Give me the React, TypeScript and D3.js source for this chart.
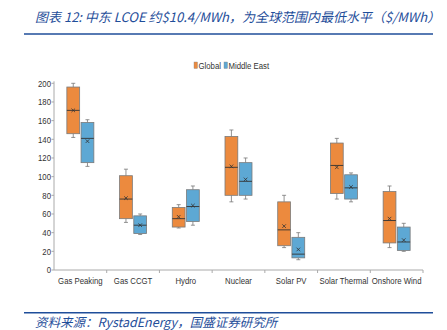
import React from "react";
import * as d3 from "d3";

const categories = ["Gas Peaking", "Gas CCGT", "Hydro", "Nuclear", "Solar PV", "Solar Thermal", "Onshore Wind"];
const seriesNames = ["Global", "Middle East"];
// [whiskerLow, q1, median, q3, whiskerHigh, mean]
const globalStats = [
  [142, 146, 171, 196, 200, 171],
  [51, 55, 76, 101, 108, 77],
  [45, 46, 55, 67, 70, 57],
  [73, 80, 110, 143, 150, 111],
  [24, 26, 43, 73, 80, 47],
  [76, 82, 112, 136, 141, 110],
  [24, 29, 53, 84, 90, 55],
];
const middleEastStats = [
  [111, 115, 141, 158, 161, 138],
  [38, 39, 48, 58, 60, 48],
  [48, 52, 68, 86, 90, 69],
  [76, 80, 95, 115, 120, 97],
  [11, 13, 17, 35, 40, 22],
  [73, 76, 88, 102, 104, 89],
  [20, 21, 30, 46, 50, 32],
];
const yTicks = [0, 20, 40, 60, 80, 100, 120, 140, 160, 180, 200];
const colors = ["#EC8A3E", "#5DA8D4"];

const W = 447, H = 330;
const FONT = "'Liberation Sans', Arial, sans-serif";
const CJK = "'Noto Sans CJK SC', sans-serif";

function NText({ x, y, anchor = "start", size = 9.5, sx = 0.82, children }: any) {
  return (
    <g transform={`translate(${x},${y}) scale(${sx},1)`}>
      <text x={0} y={0} textAnchor={anchor} fontSize={size} fontFamily={FONT} fill="#333">{children}</text>
    </g>
  );
}

export default function App() {
  const x = d3.scaleBand().domain(categories).range([54, 423]).paddingInner(0).paddingOuter(0);
  const y = d3.scaleLinear().domain([0, 200]).range([270, 83.3]);
  const sub = d3.scaleBand().domain(seriesNames).range([-13.5, 13.5]).paddingInner(0.1);
  const bw = sub.bandwidth();
  const all = [globalStats, middleEastStats];

  return (
    <svg width={W} height={H} style={{ position: "absolute", left: 0, top: 0, background: "#fff" }}>
      <text x={35} y={22} fill="#1F4E9A" fontSize={13} fontStyle="italic" fontFamily={CJK}>
        图表 12: 中东 LCOE 约$10.4/MWh，为全球范围内最低水平（$/MWh）
      </text>
      <line x1={24} x2={433} y1={34} y2={34} stroke="#1F4E9A" strokeWidth={1.5} />

      {/* legend */}
      <rect x={194} y={62} width={3.5} height={6.5} fill={colors[0]} stroke="#888" strokeWidth={0.4} />
      <NText x={198.5} y={68.5} size={9.5}>Global</NText>
      <rect x={224} y={62} width={3.5} height={6.5} fill={colors[1]} stroke="#888" strokeWidth={0.4} />
      <NText x={228.5} y={68.5} size={9.5}>Middle East</NText>

      {/* y axis */}
      <line x1={54} x2={54} y1={y(200) - 2} y2={y(0)} stroke="#aaa" strokeWidth={1} />
      {yTicks.map((t) => (
        <g key={t}>
          <line x1={51.5} x2={54} y1={y(t)} y2={y(t)} stroke="#aaa" />
          <NText x={51} y={y(t) + 3.3} anchor="end" size={9.5}>{t}</NText>
        </g>
      ))}
      {/* x axis */}
      <line x1={54} x2={423} y1={y(0)} y2={y(0)} stroke="#aaa" strokeWidth={1} />
      {categories.map((c) => (
        <g key={c}>
          <line x1={(x(c) as number) + x.bandwidth()} x2={(x(c) as number) + x.bandwidth()} y1={y(0)} y2={y(0) + 3} stroke="#aaa" />
          <NText x={(x(c) as number) + x.bandwidth() / 2} y={283.5} anchor="middle" size={9.5}>{c}</NText>
        </g>
      ))}

      {/* boxes */}
      {categories.map((c, i) => {
        const cx = (x(c) as number) + x.bandwidth() / 2;
        return seriesNames.map((s, si) => {
          const [lo, q1, med, q3, hi, mean] = all[si][i];
          const bx = cx + (sub(s) as number);
          const mx = bx + bw / 2;
          return (
            <g key={c + s}>
              <line x1={mx} x2={mx} y1={y(hi)} y2={y(q3)} stroke="#777" strokeWidth={0.8} />
              <line x1={mx} x2={mx} y1={y(q1)} y2={y(lo)} stroke="#777" strokeWidth={0.8} />
              <line x1={mx - 2} x2={mx + 2} y1={y(hi)} y2={y(hi)} stroke="#777" strokeWidth={0.8} />
              <line x1={mx - 2} x2={mx + 2} y1={y(lo)} y2={y(lo)} stroke="#777" strokeWidth={0.8} />
              <rect x={bx} y={y(q3)} width={bw} height={y(q1) - y(q3)} fill={colors[si]} stroke="#7a7a7a" strokeWidth={0.8} />
              <line x1={bx} x2={bx + bw} y1={y(med)} y2={y(med)} stroke="#333" strokeWidth={0.9} />
              <g stroke="#333" strokeWidth={0.8}>
                <line x1={mx - 1.8} x2={mx + 1.8} y1={y(mean) - 1.8} y2={y(mean) + 1.8} />
                <line x1={mx - 1.8} x2={mx + 1.8} y1={y(mean) + 1.8} y2={y(mean) - 1.8} />
              </g>
            </g>
          );
        });
      })}

      <line x1={24} x2={433} y1={312.7} y2={312.7} stroke="#1F4E9A" strokeWidth={1.5} />
      <text x={35} y={327} fill="#1F4E9A" fontSize={12.5} fontStyle="italic" fontFamily={CJK}>
        资料来源：RystadEnergy，国盛证券研究所
      </text>
    </svg>
  );
}
